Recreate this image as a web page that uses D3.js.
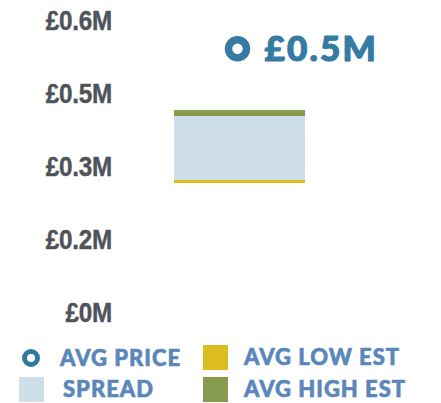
<!DOCTYPE html>
<html>
<head>
<meta charset="utf-8">
<script src="https://cdn.jsdelivr.net/npm/d3@7"></script>
<style>
  body { margin: 0; background: #fff; }
  svg { display: block; }
</style>
</head>
<body>
<div id="chart"></div>
<script>
// data
var categories = ["Lot"];
var avgPrice = [0.541];
var avgLowEst = [0.265];
var avgHighEst = [0.415];
var tickValues = [0, 0.15, 0.3, 0.45, 0.6];
var tickLabels = ["£0M", "£0.2M", "£0.3M", "£0.5M", "£0.6M"];
var priceLabels = ["£0.5M"];
var legendItems = ["AVG PRICE", "SPREAD", "AVG LOW EST", "AVG HIGH EST"];

var width = 441, height = 403;

var svg = d3.select("#chart")
  .append("svg")
  .attr("width", width)
  .attr("height", height);

var y = d3.scaleLinear()
  .domain([0, 0.6])
  .range([312, 20]);

var x = d3.scaleBand()
  .domain(categories)
  .range([174, 305])
  .padding(0);

// y axis, labels only
var yAxis = d3.axisLeft(y)
  .tickValues(tickValues)
  .tickFormat(function (d, i) { return tickLabels[i]; })
  .tickSize(0)
  .tickPadding(0);

var axisG = svg.append("g")
  .attr("transform", "translate(112,0)")
  .call(yAxis);
axisG.select(".domain").remove();
// squeeze a bit, the original font is a condensed one
axisG.selectAll("text")
  .attr("dy", "0.36em")
  .attr("transform", "scale(0.9,1)")
  .style("font-family", "'Liberation Sans', Arial, sans-serif")
  .style("font-weight", "bold")
  .style("font-size", "27px")
  .style("letter-spacing", "-0.3px")
  .style("stroke", "#4f535a")
  .style("stroke-width", "0.4px")
  .style("fill", "#4f535a");

// spread
var bars = svg.append("g");
bars.selectAll("rect.spread")
  .data(categories)
  .enter().append("rect")
  .attr("class", "spread")
  .attr("x", function (d) { return x(d); })
  .attr("width", x.bandwidth())
  .attr("y", function (d, i) { return y(avgHighEst[i]); })
  .attr("height", function (d, i) { return y(avgLowEst[i]) - y(avgHighEst[i]); })
  .style("fill", "#cfdfe9");

// high est band
bars.selectAll("rect.high")
  .data(categories)
  .enter().append("rect")
  .attr("class", "high")
  .attr("x", function (d) { return x(d); })
  .attr("width", x.bandwidth())
  .attr("y", function (d, i) { return y(avgHighEst[i]); })
  .attr("height", 6)
  .style("fill", "#879b4e");

// low est band
bars.selectAll("rect.low")
  .data(categories)
  .enter().append("rect")
  .attr("class", "low")
  .attr("x", function (d) { return x(d); })
  .attr("width", x.bandwidth())
  .attr("y", function (d, i) { return y(avgLowEst[i]) - 3; })
  .attr("height", 3)
  .style("fill", "#dbbd1f");

// avg price point
svg.selectAll("circle.price")
  .data(categories)
  .enter().append("circle")
  .attr("class", "price")
  .attr("cx", function (d) { return x(d) + x.bandwidth() / 2 - 2; })
  .attr("cy", function (d, i) { return y(avgPrice[i]); })
  .attr("r", 9)
  .style("fill", "#fff")
  .style("stroke", "#357ba2")
  .style("stroke-width", 7.5);

svg.selectAll("text.price")
  .data(categories)
  .enter().append("text")
  .attr("class", "price")
  .attr("x", function (d) { return x(d) + x.bandwidth() / 2 + 25; })
  .attr("y", function (d, i) { return y(avgPrice[i]); })
  .attr("dy", "0.36em")
  .text(function (d, i) { return priceLabels[i]; })
  .style("font-family", "Lato, sans-serif")
  .style("font-weight", "900")
  .style("font-size", "35px")
  .style("letter-spacing", "2.2px")
  .style("stroke", "#357ba2")
  .style("stroke-width", "1.2px")
  .style("fill", "#357ba2");

// legend
var legend = svg.append("g");
var legendPos = [
  {x: 31, y: 358}, {x: 31, y: 389}, {x: 215, y: 357}, {x: 215, y: 389}
];
var textPos = [60, 63, 244, 244];

legend.append("circle")
  .attr("cx", legendPos[0].x)
  .attr("cy", legendPos[0].y)
  .attr("r", 6.5)
  .style("fill", "#fff")
  .style("stroke", "#2f7a9e")
  .style("stroke-width", 5);

var swatchColors = [null, "#cfdfe9", "#dbbd1f", "#879b4e"];
[1, 2, 3].forEach(function (i) {
  legend.append("rect")
    .attr("x", legendPos[i].x - 12)
    .attr("y", legendPos[i].y - 12)
    .attr("width", 25)
    .attr("height", 25)
    .style("fill", swatchColors[i]);
});

legend.selectAll("text")
  .data(legendItems)
  .enter().append("text")
  .attr("x", function (d, i) { return textPos[i]; })
  .attr("y", function (d, i) { return legendPos[i].y; })
  .attr("dy", "0.36em")
  .text(function (d) { return d; })
  .style("font-family", "Lato, sans-serif")
  .style("font-weight", "900")
  .style("font-size", "22px")
  .style("letter-spacing", "1px")
  .style("stroke", "#5a87bb")
  .style("stroke-width", "0.6px")
  .style("fill", "#5a87bb");
</script>
</body>
</html>
